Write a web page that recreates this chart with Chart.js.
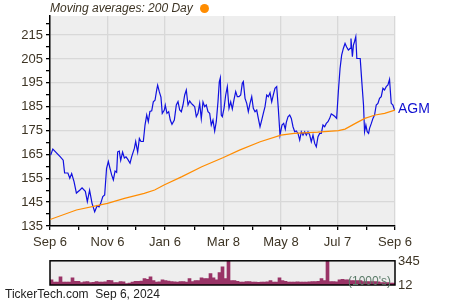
<!DOCTYPE html>
<html>
<head>
<meta charset="utf-8">
<script src="https://cdn.jsdelivr.net/npm/chart.js@4.4.0/dist/chart.umd.min.js"></script>
<style>
  body { margin: 0; background: #fff; font-family: "Liberation Sans", Arial, sans-serif; }
  #wrap { position: relative; width: 450px; height: 300px; overflow: hidden; }
  canvas { position: absolute; left: 0; }
  #main { top: 0; }
  #vol { top: 250px; }
  .txt { position: absolute; white-space: nowrap; color: #3d3424; }
  #title { left: 50px; top: 0; font-size: 12px; font-style: italic; line-height: 16px; }
  #dot { display: inline-block; width: 9px; height: 9px; border-radius: 50%; background: #ff8c00; margin-left: 7px; vertical-align: -1px; }
  #agm { left: 398px; top: 100px; font-size: 14px; line-height: 16px; color: #1010d0; }
  #footer { left: 5px; top: 287px; font-size: 12px; line-height: 14px; color: #222; }
  #units { left: 348px; top: 274px; font-size: 12px; line-height: 14px; color: #5a7a68; }
</style>
</head>
<body>
<div id="wrap">
  <canvas id="main" width="450" height="250"></canvas>
  <canvas id="vol" width="450" height="50"></canvas>
  <div class="txt" id="title">Moving averages: 200 Day<span id="dot"></span></div>
  <div class="txt" id="agm">AGM</div>
  <div class="txt" id="units">(1000's)</div>
  <div class="txt" id="footer">TickerTech.com&nbsp; Sep 6, 2024</div>
</div>
<script>
// days since Sep 6 2023
const xMajor = [0, 61, 122, 184, 245, 305, 366];
const xLabels = ['Sep 6', 'Nov 6', 'Jan 6', 'Mar 8', 'May 8', 'Jul 7', 'Sep 6'];
const xMinor = [30, 91, 153, 215, 275, 336];

const yTicks = [135, 140, 145, 150, 155, 160, 165, 170, 175, 180, 185, 190, 195, 200, 205, 210, 215, 220];
const yLabels = [135, 145, 155, 165, 175, 185, 195, 205, 215];

const priceDays = [
  0.7, 3, 11, 14, 15.5, 19, 21, 23, 25.5, 28,
  31.5, 34, 37.5, 39.6, 42, 44.6, 47.4, 50, 52, 53.8,
  56, 58, 60, 61.9, 63.7, 65.4, 67.2, 69, 70.7, 71.8,
  73.5, 75, 77, 78.9, 80.6, 82.4, 84.9, 86.6, 89.5, 90.9,
  93, 94.8, 96.5, 99, 100.8, 102.6, 104.3, 106, 107.9, 109.6,
  111.4, 113.2, 114.2, 116, 117.7, 119.1, 121.3, 122.3, 124.1, 125.9,
  127.6, 129.4, 131.9, 134, 135.8, 137.6, 139.3, 141.1, 142.9, 144.6,
  146.4, 148.2, 149.9, 151.7, 153.5, 155.2, 157, 158.8, 160.5, 162.3,
  164.1, 165.8, 167.6, 169.4, 171.1, 172.9, 174.7, 176.4, 178.2, 179.6,
  180.7, 181.7, 182.8, 184.6, 186.4, 188.1, 189.9, 191.7, 193.4, 195.2,
  197, 198.7, 200.5, 202.3, 204, 205.1, 206.9, 208.7, 210.4, 212.2,
  214, 215.7, 217.5, 219.3, 221, 222.8, 224.6, 226.3, 228.1, 229.9,
  231.6, 233.4, 235.2, 236.9, 238.7, 240.5, 242.2, 244, 246.1, 247.9,
  249.6, 250.7, 252.5, 254.3, 256, 257.8, 259.6, 261.3, 263.1, 264.9,
  266.6, 268.4, 270.2, 271.9, 273.7, 275.5, 277.2, 279, 280.8, 282.5,
  284.3, 286.1, 287.8, 289.6, 291.4, 293.1, 294.9, 296.7, 298.4, 300.2,
  302, 304.1, 305.9, 307.7, 309.4, 311.2, 313, 314.7, 316.5, 318.3,
  319.3, 320.8, 321.9, 323, 324.4, 325.5, 327.3, 329.1, 330.8, 332.6,
  333.7, 335.1, 336.5, 338, 339, 340.8, 342.6, 344.3, 346.1, 347.9,
  349.6, 351.4, 353.2, 354.9, 356.7, 358.5, 360.2, 362, 363.8, 365.5
];
const priceValues = [
  164.7, 167.2, 164, 162.6, 157.2, 157.2, 155, 157, 153.6, 148.8,
  150, 151, 149.5, 145.2, 150, 144.5, 141, 143.5, 143, 144.5,
  147.3, 148, 159.2, 162, 159, 156.4, 154.3, 158, 157.5, 166.1,
  166.4, 162.5, 166, 163.5, 164, 163, 161.3, 164, 167.5, 170.4,
  166, 171.7, 170.4, 170.4, 177.3, 181.5, 178.7, 183, 183.3, 187,
  187.7, 192, 194, 191.2, 189, 182.2, 183.6, 185.7, 182.2, 182.9,
  179.4, 177.6, 179.4, 185.7, 187.1, 183.6, 182.9, 185.7, 189.9, 192,
  185.7, 187.4, 186.4, 185.7, 185, 180.8, 182.2, 186.4, 180, 187,
  185, 185.7, 182.9, 182.2, 177.3, 179.4, 174.8, 178.7, 187, 195.4,
  197.1, 181.5, 180.8, 184.3, 189.9, 193.4, 184.3, 187, 184, 188,
  191.3, 189.2, 189.2, 189.9, 194.8, 195.5, 188.5, 186.4, 182.9, 186.4,
  189.2, 184.3, 182.9, 183.6, 180.1, 176.6, 179.4, 182.2, 185, 189.9,
  189.2, 190.8, 187, 189.9, 192.7, 193.4, 184.3, 173.1, 177.3, 178,
  175.6, 178.4, 180.8, 181.5, 180.1, 176.6, 174.5, 174.8, 173.8, 171,
  174.5, 173.1, 174.5, 173.1, 174.5, 173.1, 170.3, 173.1, 169.6, 168.2,
  172.4, 173.8, 173.8, 177.3, 176.6, 178, 178.7, 180.1, 182, 181.5,
  181, 180.1, 191.3, 201, 206.6, 209.4, 211.5, 210, 208.7, 209.4,
  213.6, 205.9, 210.8, 212.2, 214.3, 205.2, 205.2, 205.2, 195.4, 185.7,
  174.5, 177.3, 174.5, 173.8, 175.9, 177.9, 180.1, 181.5, 185.7, 186.4,
  188.5, 189.2, 192.7, 192, 193.4, 194.1, 196.4, 186.4, 185.7, 183.6
];

// 200 day moving average
const maDays = [0, 28, 61, 79, 100, 111, 121, 140, 161, 184, 201, 223, 245, 259, 284, 306, 313, 324, 334, 345, 355, 366];
const maValues = [137.7, 141.7, 144.5, 146.6, 148.7, 150.1, 152.2, 155.7, 159.8, 163.7, 166.8, 170.3, 173.1, 173.8, 174.3, 175, 175.6, 178, 180.1, 181.5, 182.2, 183.6];

// volume, thousands
const volValues = [
  74, 41, 41, 115, 41, 41, 41, 103, 53, 53,
  33, 45, 49, 33, 37, 49, 41, 41, 45, 66,
  62, 33, 33, 49, 45, 20, 29, 41, 53, 53,
  57, 90, 82, 115, 62, 41, 45, 74, 62, 57,
  49, 45, 41, 49, 49, 41, 90, 49, 62, 62,
  103, 90, 90, 164, 103, 74, 176, 258, 90, 345,
  62, 62, 53, 41, 41, 49, 49, 41, 41, 37,
  41, 41, 45, 62, 41, 41, 103, 62, 53, 41,
  41, 41, 45, 41, 41, 41, 45, 49, 49, 53,
  90, 62, 345, 49, 49, 45, 74, 82, 74, 74,
  62, 62, 62, 62, 49, 49, 49, 49, 49, 45,
  33, 33, 33, 29, 29
];
const volTicks = [12, 345];

const textColor = '#3d3424';
const font = { family: '"Liberation Sans", Arial, sans-serif', size: 13 };

const plotBg = {
  id: 'plotBg',
  beforeDraw(chart) {
    const a = chart.chartArea, c = chart.ctx;
    c.save();
    c.fillStyle = '#eeeeee';
    c.fillRect(a.left, a.top, a.right - a.left, a.bottom - a.top);
    c.restore();
  }
};

const boxLine = {
  id: 'boxLine',
  afterDraw(chart) {
    const a = chart.chartArea, c = chart.ctx;
    c.save();
    c.strokeStyle = '#000';
    c.lineWidth = 1.5;
    c.strokeRect(a.left, a.top, a.right - a.left, a.bottom - a.top);
    c.restore();
  }
};

new Chart(document.getElementById('main'), {
  type: 'line',
  data: {
    datasets: [
      {
        data: maDays.map((d, i) => ({ x: d, y: maValues[i] })),
        borderColor: '#ff8c00',
        borderWidth: 1.2,
        pointRadius: 0,
        tension: 0
      },
      {
        data: priceDays.map((d, i) => ({ x: d, y: priceValues[i] })),
        borderColor: '#1010e0',
        borderWidth: 1.2,
        pointRadius: 0,
        tension: 0
      }
    ]
  },
  options: {
    responsive: false,
    animation: false,
    layout: { padding: { top: 16, right: 55, left: 0, bottom: 0 } },
    plugins: { legend: { display: false }, tooltip: { enabled: false } },
    scales: {
      x: {
        type: 'linear',
        min: 0,
        max: 366,
        afterBuildTicks: s => { s.ticks = xMajor.concat(xMinor).sort((a, b) => a - b).map(v => ({ value: v })); },
        afterFit: s => { s.height = 24; },
        ticks: {
          autoSkip: false,
          maxRotation: 0,
          padding: 5,
          color: textColor,
          font: font,
          callback: v => { const i = xMajor.indexOf(v); return i < 0 ? '' : xLabels[i]; }
        },
        grid: {
          color: ctx => xMajor.includes(ctx.tick.value) ? '#d8d8d8' : 'rgba(0,0,0,0)',
          tickColor: '#000',
          tickLength: 4,
          lineWidth: 1.3
        },
        border: { color: '#000', width: 1.5 }
      },
      y: {
        min: 135,
        max: 223,
        afterBuildTicks: s => { s.ticks = yTicks.map(v => ({ value: v })); },
        afterFit: s => { s.width = 50; },
        ticks: {
          autoSkip: false,
          padding: 3,
          color: textColor,
          font: font,
          callback: v => yLabels.includes(v) ? String(v) : ''
        },
        grid: {
          color: ctx => yLabels.includes(ctx.tick.value) ? '#d8d8d8' : 'rgba(0,0,0,0)',
          tickColor: '#000',
          tickLength: 4,
          lineWidth: 1.3
        },
        border: { color: '#000', width: 1.5 }
      }
    }
  },
  plugins: [plotBg]
});

new Chart(document.getElementById('vol'), {
  type: 'bar',
  data: {
    labels: volValues.map((v, i) => i),
    datasets: [{
      data: volValues,
      backgroundColor: '#993366',
      categoryPercentage: 1,
      barPercentage: 1
    }]
  },
  options: {
    responsive: false,
    animation: false,
    layout: { padding: { top: 7, right: 0, left: 50, bottom: 15 } },
    plugins: { legend: { display: false }, tooltip: { enabled: false } },
    scales: {
      x: { display: false },
      y: {
        position: 'right',
        min: 0,
        max: 345,
        afterBuildTicks: s => { s.ticks = volTicks.map(v => ({ value: v })); },
        afterFit: s => { s.width = 55; },
        ticks: { autoSkip: false, padding: 3, labelOffset: 1, color: textColor, font: font },
        grid: { display: false, drawTicks: false },
        border: { display: false }
      }
    }
  },
  plugins: [plotBg, boxLine]
});
</script>
</body>
</html>
